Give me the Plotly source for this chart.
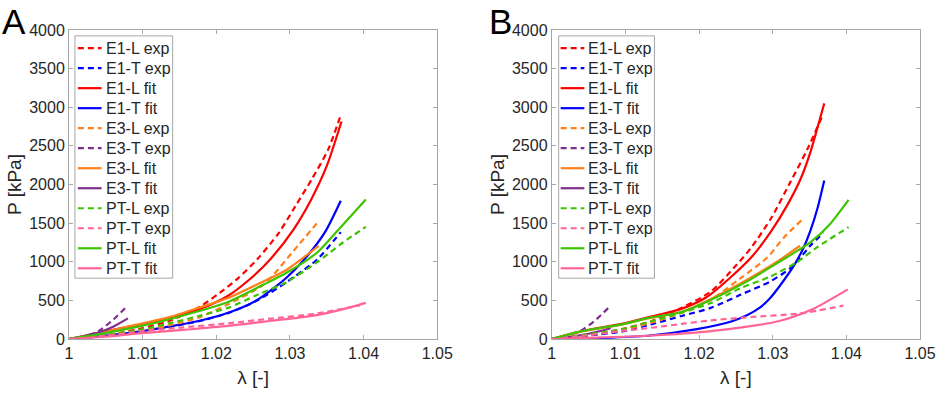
import plotly.graph_objects as go

# ---------------- Panel A data ----------------
A_e1l_exp_x = [1.0, 1.003, 1.006, 1.0095, 1.0135, 1.0178, 1.0205, 1.023, 1.0256, 1.0285, 1.0307, 1.033, 1.0352, 1.0369]
A_e1l_exp_y = [0, 25, 63, 130, 230, 420, 600, 790, 1037, 1375, 1714, 2074, 2455, 2900]
A_e1t_exp_x = [1.0, 1.005, 1.0095, 1.0135, 1.0176, 1.0216, 1.0256, 1.0296, 1.0337, 1.0369]
A_e1t_exp_y = [0, 40, 90, 155, 230, 335, 500, 741, 1030, 1384]
A_e1l_fit_x = [1.0, 1.0045, 1.0095, 1.0135, 1.0176, 1.0216, 1.0245, 1.0274, 1.0305, 1.0328, 1.035, 1.037]
A_e1l_fit_y = [0, 90, 185, 270, 381, 560, 770, 1040, 1420, 1790, 2240, 2815]
A_e1t_fit_x = [1.0, 1.005, 1.0095, 1.0135, 1.0176, 1.0216, 1.0256, 1.0296, 1.0324, 1.0348, 1.0369]
A_e1t_fit_y = [0, 45, 95, 160, 233, 339, 508, 800, 1080, 1390, 1790]
A_e3l_exp_x = [1.0, 1.004, 1.0095, 1.0135, 1.0176, 1.0216, 1.0265, 1.0305, 1.034]
A_e3l_exp_y = [0, 35, 100, 175, 276, 450, 710, 1143, 1537]
A_e3t_exp_x = [1.0, 1.002, 1.004, 1.006, 1.008]
A_e3t_exp_y = [0, 35, 100, 250, 436]
A_e3l_fit_x = [1.0, 1.004, 1.0084, 1.0135, 1.0176, 1.0216, 1.0263, 1.0296, 1.0339]
A_e3l_fit_y = [0, 70, 169, 280, 403, 530, 740, 900, 1207]
A_e3t_fit_x = [1.0, 1.002, 1.004, 1.006, 1.008]
A_e3t_fit_y = [0, 35, 85, 160, 267]
A_ptl_exp_x = [1.0, 1.004, 1.0095, 1.0135, 1.0176, 1.0216, 1.0256, 1.0296, 1.0337, 1.0372, 1.0403]
A_ptl_exp_y = [0, 40, 115, 200, 297, 403, 572, 740, 995, 1249, 1452]
A_ptt_exp_x = [1.0, 1.005, 1.0095, 1.0155, 1.0216, 1.027, 1.0337, 1.0395]
A_ptt_exp_y = [0, 45, 97, 150, 203, 260, 330, 436]
A_ptl_fit_x = [1.0, 1.004, 1.0084, 1.0126, 1.0173, 1.0216, 1.0263, 1.0296, 1.0337, 1.0372, 1.0403]
A_ptl_fit_y = [0, 60, 140, 230, 352, 480, 698, 860, 1120, 1480, 1807]
A_ptt_fit_x = [1.0, 1.005, 1.0095, 1.0155, 1.0216, 1.027, 1.0337, 1.037, 1.0403]
A_ptt_fit_y = [0, 30, 72, 118, 169, 230, 310, 380, 468]

# ---------------- Panel B data ----------------
B_e1l_exp_x = [1.0, 1.003, 1.006, 1.0095, 1.0135, 1.0176, 1.0216, 1.0251, 1.0271, 1.0298, 1.0324, 1.0347, 1.0367]
B_e1l_exp_y = [0, 25, 60, 127, 230, 403, 614, 960, 1185, 1566, 2032, 2455, 2879]
B_e1t_exp_x = [1.0, 1.005, 1.0095, 1.0135, 1.0176, 1.0216, 1.0256, 1.0296, 1.0323, 1.0338, 1.0351, 1.0369]
B_e1t_exp_y = [0, 45, 97, 190, 297, 403, 572, 741, 910, 1058, 1207, 1376]
B_e1l_fit_x = [1.0, 1.004, 1.0095, 1.0135, 1.0176, 1.021, 1.0243, 1.0271, 1.0298, 1.032, 1.0338, 1.0351, 1.036, 1.037]
B_e1l_fit_y = [0, 100, 195, 290, 390, 540, 800, 1058, 1397, 1736, 2074, 2413, 2709, 3050]
B_e1t_fit_x = [1.0, 1.004, 1.013, 1.0197, 1.0246, 1.0265, 1.0282, 1.0296, 1.0309, 1.033, 1.0342, 1.0351, 1.0361, 1.037]
B_e1t_fit_y = [0, 5, 42, 127, 233, 306, 402, 525, 680, 970, 1185, 1397, 1700, 2053]
B_e3l_exp_x = [1.0, 1.004, 1.0095, 1.0135, 1.0176, 1.0216, 1.0256, 1.0293, 1.0315, 1.0339]
B_e3l_exp_y = [0, 40, 115, 210, 339, 508, 784, 1058, 1312, 1537]
B_e3t_exp_x = [1.0, 1.002, 1.004, 1.006, 1.008]
B_e3t_exp_y = [0, 40, 110, 250, 432]
B_e3l_fit_x = [1.0, 1.004, 1.0095, 1.013, 1.0176, 1.021, 1.0264, 1.0309, 1.0337]
B_e3l_fit_y = [0, 95, 185, 265, 350, 490, 760, 1020, 1207]
B_e3t_fit_x = [1.0, 1.002, 1.004, 1.006, 1.008]
B_e3t_fit_y = [0, 20, 50, 90, 140]
B_ptl_exp_x = [1.0, 1.004, 1.0095, 1.0135, 1.0176, 1.0216, 1.0256, 1.0296, 1.0333, 1.036, 1.0403]
B_ptl_exp_y = [0, 50, 127, 230, 339, 466, 657, 805, 995, 1185, 1448]
B_ptt_exp_x = [1.0, 1.005, 1.0095, 1.013, 1.0176, 1.0216, 1.027, 1.0337, 1.0396]
B_ptt_exp_y = [0, 50, 105, 140, 195, 241, 285, 330, 432]
B_ptl_fit_x = [1.0, 1.004, 1.0095, 1.013, 1.0176, 1.021, 1.0264, 1.0309, 1.0335, 1.0351, 1.0378, 1.0403]
B_ptl_fit_y = [0, 100, 190, 270, 350, 480, 740, 1000, 1150, 1250, 1490, 1800]
B_ptt_fit_x = [1.0, 1.005, 1.013, 1.0219, 1.0309, 1.0353, 1.0402]
B_ptt_fit_y = [0, 15, 42, 106, 233, 381, 643]

names = ["E1-L exp", "E1-T exp", "E1-L fit", "E1-T fit", "E3-L exp", "E3-T exp",
         "E3-L fit", "E3-T fit", "PT-L exp", "PT-T exp", "PT-L fit", "PT-T fit"]
colors = ["#ff0000", "#0000ff", "#ff0000", "#0000ff", "#ff7f1a", "#7e2f8e",
          "#ff7f1a", "#7e2f8e", "#3cc400", "#ff6495", "#3cc400", "#ff6495"]
dashed = [True, True, False, False, True, True, False, False, True, True, False, False]

A_series = [(A_e1l_exp_x, A_e1l_exp_y), (A_e1t_exp_x, A_e1t_exp_y), (A_e1l_fit_x, A_e1l_fit_y),
            (A_e1t_fit_x, A_e1t_fit_y), (A_e3l_exp_x, A_e3l_exp_y), (A_e3t_exp_x, A_e3t_exp_y),
            (A_e3l_fit_x, A_e3l_fit_y), (A_e3t_fit_x, A_e3t_fit_y), (A_ptl_exp_x, A_ptl_exp_y),
            (A_ptt_exp_x, A_ptt_exp_y), (A_ptl_fit_x, A_ptl_fit_y), (A_ptt_fit_x, A_ptt_fit_y)]
B_series = [(B_e1l_exp_x, B_e1l_exp_y), (B_e1t_exp_x, B_e1t_exp_y), (B_e1l_fit_x, B_e1l_fit_y),
            (B_e1t_fit_x, B_e1t_fit_y), (B_e3l_exp_x, B_e3l_exp_y), (B_e3t_exp_x, B_e3t_exp_y),
            (B_e3l_fit_x, B_e3l_fit_y), (B_e3t_fit_x, B_e3t_fit_y), (B_ptl_exp_x, B_ptl_exp_y),
            (B_ptt_exp_x, B_ptt_exp_y), (B_ptl_fit_x, B_ptl_fit_y), (B_ptt_fit_x, B_ptt_fit_y)]

x_ticks = [1, 1.01, 1.02, 1.03, 1.04, 1.05]
x_tick_labels = ["1", "1.01", "1.02", "1.03", "1.04", "1.05"]
y_ticks = [0, 500, 1000, 1500, 2000, 2500, 3000, 3500, 4000]

FONT = "Liberation Sans, Arial, sans-serif"
TXT = "#262626"
GRAY = "#a6a6a6"
DASH = "6px,4px"
LW = 2.2

W, H = 948, 397
ml, mr, mt, mb = 69, 17, 30, 52
pw = W - ml - mr
ph = H - mt - mb


def px(xp):
    return (xp - ml) / pw


def py(yp):
    return 1 - (yp - mt) / ph


fig = go.Figure()
for series, xa, ya in [(A_series, "x", "y"), (B_series, "x2", "y2")]:
    for (sx, sy), nm, col, dsh in zip(series, names, colors, dashed):
        fig.add_trace(go.Scatter(
            x=sx, y=sy, mode="lines", name=nm, xaxis=xa, yaxis=ya, showlegend=False,
            line=dict(color=col, width=LW, shape="spline", smoothing=0.7,
                      dash=DASH if dsh else "solid"),
        ))

dA = [0, (442 - ml) / pw]
dB = [(558 - ml) / pw, 1]

axis_common = dict(showline=True, mirror="ticks", linecolor=GRAY, linewidth=1,
                   ticks="inside", ticklen=4, tickcolor=GRAY, showgrid=False,
                   zeroline=False, tickfont=dict(family=FONT, size=16, color=TXT))
xcfg = dict(axis_common, range=[1, 1.05], tickvals=x_ticks, ticktext=x_tick_labels,
            title=dict(text="λ [-]", font=dict(family=FONT, size=19, color=TXT), standoff=9))
ycfg = dict(axis_common, range=[0, 4000], tickvals=y_ticks,
            title=dict(text="P [kPa]", font=dict(family=FONT, size=19, color=TXT), standoff=2))

# legend boxes (pixel geometry of the reference figure)
shapes = []
annotations = []
legend_geo = [
    # box_left, box_right, line_x0, line_x1, text_x
    (75, 174, 78, 102, 104),
    (565, 662, 567, 591, 593),
]
box_top, box_bottom, first_row, row_step = 36, 283, 48.5, 20.4
for (bl, br, lx0, lx1, tx) in legend_geo:
    shapes.append(dict(type="rect", xref="paper", yref="paper", layer="above",
                       x0=px(bl), x1=px(br), y0=py(box_bottom), y1=py(box_top),
                       fillcolor="white", line=dict(color=GRAY, width=1)))
    for i, (nm, col, dsh) in enumerate(zip(names, colors, dashed)):
        yy = first_row + i * row_step
        shapes.append(dict(type="line", xref="paper", yref="paper", layer="above",
                           x0=px(lx0), x1=px(lx1), y0=py(yy), y1=py(yy),
                           line=dict(color=col, width=LW, dash=DASH if dsh else "solid")))
        annotations.append(dict(text=nm, x=px(tx), y=py(yy), xref="paper", yref="paper",
                                xanchor="left", yanchor="middle", showarrow=False,
                                font=dict(family=FONT, size=16, color=TXT)))

for label, lx in [("A", 0), ("B", 493)]:
    annotations.append(dict(text=label, x=px(lx), y=py(0), xref="paper", yref="paper",
                            xanchor="left", yanchor="top", showarrow=False, borderpad=0,
                            font=dict(family=FONT, size=35, color="black")))

fig.update_layout(
    width=W, height=H, margin=dict(l=ml, r=mr, t=mt, b=mb),
    paper_bgcolor="white", plot_bgcolor="white",
    font=dict(family=FONT), showlegend=False,
    xaxis=dict(xcfg, domain=dA, anchor="y"),
    yaxis=dict(ycfg, domain=[0, 1], anchor="x"),
    xaxis2=dict(xcfg, domain=dB, anchor="y2"),
    yaxis2=dict(ycfg, domain=[0, 1], anchor="x2"),
    shapes=shapes,
    annotations=annotations,
)

fig.write_html("out.html", config={"displayModeBar": False},
               post_script="document.body.style.margin='0px';")
